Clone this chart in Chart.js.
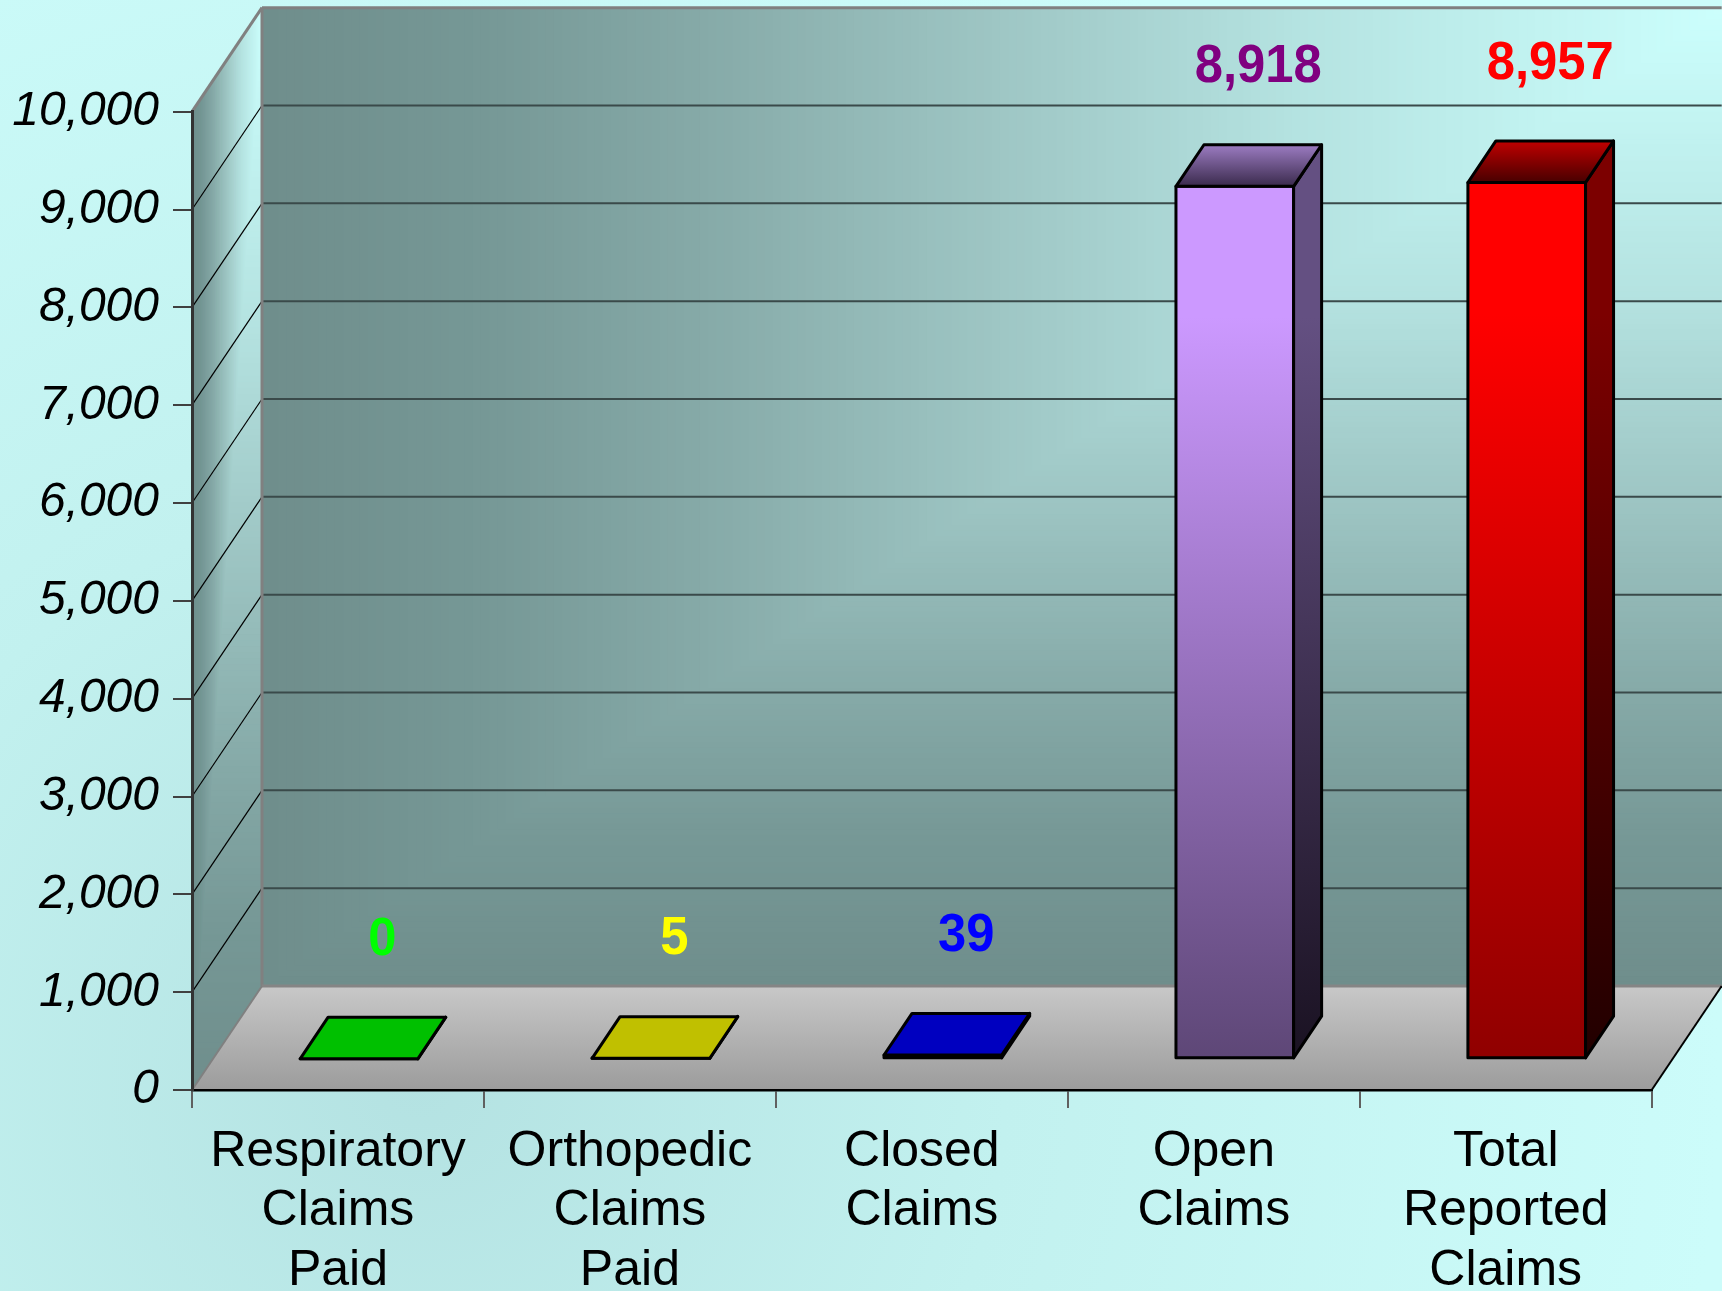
<!DOCTYPE html>
<html>
<head>
<meta charset="utf-8">
<script src="https://cdn.jsdelivr.net/npm/chart.js@4.4.1/dist/chart.umd.min.js"></script>
<style>
html,body{margin:0;padding:0;background:#c6f6f4;overflow:hidden}
canvas{display:block}
</style>
</head>
<body>
<canvas id="chart" width="1722" height="1291"></canvas>
<script>
// --- DATA --- //
const categories = [
  ["Respiratory","Claims","Paid"],
  ["Orthopedic","Claims","Paid"],
  ["Closed","Claims"],
  ["Open","Claims"],
  ["Total","Reported","Claims"]
];
const claimCounts = [0, 5, 39, 8918, 8957];
const yMin = 0;
const yMax = 10000;
const yStep = 1000;

// --- STYLE --- //
const FONT = "'Liberation Sans', Arial, Helvetica, sans-serif";
const DEPTH_X = 70, DEPTH_Y = -104;      // back wall offset from the front plane
const BAR_FRONT = 0.3, BAR_BACK = 0.7;   // where the bars sit in the floor depth
const WALL_STOPS = [
  [0,[204,255,253]],[0.3,[180,226,224]],[0.5,[158,198,196]],
  [0.7,[134,170,168]],[0.85,[118,152,150]],[1,[111,142,140]]
];
const barStyles = [
  {front:["#00c000","#00c000"], side:["#006000","#006000"], top:["#00c000","#00c000"], label:"#00ff00"},
  {front:["#c0c000","#c0c000"], side:["#606000","#606000"], top:["#c0c000","#c0c000"], label:"#ffff00"},
  {front:["#0000c0","#0000c0"], side:["#000060","#000060"], top:["#0000c0","#0000c0"], label:"#0000ff"},
  {front:["#cc99ff","#5e4777"], side:["#645082","#1a1222"], top:["#9c7cc2","#3a2a4c"], label:"#800080"},
  {front:["#ff0000","#900000"], side:["#7c0000","#220000"], top:["#c00000","#480000"], label:"#ff0000"}
];

function lerpColor(stops, t){
  for(let i=1;i<stops.length;i++){
    if(t<=stops[i][0]){
      const [t0,c0]=stops[i-1], [t1,c1]=stops[i];
      const k=(t-t0)/((t1-t0)||1);
      return "rgb("+c0.map((v,j)=>Math.round(v+(c1[j]-v)*k)).join(",")+")";
    }
  }
  return "rgb("+stops[stops.length-1][1].join(",")+")";
}

// excel style "from corner" fill, light corner at top right
function cornerFill(ctx,x0,y0,x1,y1,stops){
  const w=x1-x0, h=y1-y0, n=180;
  for(let i=n;i>0;i--){
    const t=i/n;
    ctx.fillStyle=lerpColor(stops,t);
    ctx.fillRect(x1-w*t, y0, w*t+1, h*t+1);
  }
}

function line(ctx,x0,y0,x1,y1,color,width){
  ctx.beginPath(); ctx.moveTo(x0,y0); ctx.lineTo(x1,y1);
  ctx.strokeStyle=color; ctx.lineWidth=width; ctx.stroke();
}

function vGrad(ctx,ya,yb,cols){
  const g=ctx.createLinearGradient(0,ya,0,yb);
  if(cols[0]!==cols[1]){
    g.addColorStop(0,cols[0]); g.addColorStop(0.15,cols[0]); g.addColorStop(1,cols[1]);
  } else { g.addColorStop(0,cols[0]); g.addColorStop(1,cols[1]); }
  return g;
}

function poly(ctx,pts,fill){
  ctx.beginPath();
  pts.forEach((p,i)=> i? ctx.lineTo(p[0],p[1]) : ctx.moveTo(p[0],p[1]));
  ctx.closePath();
  ctx.fillStyle=fill; ctx.fill(); ctx.stroke();
}

const backdrop3d = {
  id:"backdrop3d",
  beforeDraw(chart){
    const {ctx, chartArea:a, scales:{y}} = chart;
    const L=a.left, R=a.right, B=y.getPixelForValue(yMin), T=y.getPixelForValue(yMax);
    ctx.save();
    // page background
    const bg=ctx.createRadialGradient(420,1080,0,420,1080,1300);
    bg.addColorStop(0,"#b4e2e2"); bg.addColorStop(0.45,"#c2f1ef"); bg.addColorStop(1,"#ccfcfa");
    ctx.fillStyle=bg; ctx.fillRect(0,0,chart.width,chart.height);

    // back wall
    cornerFill(ctx, L+DEPTH_X, T+DEPTH_Y, R+DEPTH_X, B+DEPTH_Y, WALL_STOPS);

    // left wall
    ctx.save();
    ctx.beginPath();
    ctx.moveTo(L,B); ctx.lineTo(L,T); ctx.lineTo(L+DEPTH_X,T+DEPTH_Y); ctx.lineTo(L+DEPTH_X,B+DEPTH_Y);
    ctx.closePath(); ctx.clip();
    cornerFill(ctx, L, T+DEPTH_Y, L+DEPTH_X, B, WALL_STOPS);
    ctx.restore();

    // floor
    const fg=ctx.createLinearGradient(0,B+DEPTH_Y,0,B);
    fg.addColorStop(0,"#c8c8c8"); fg.addColorStop(1,"#9c9c9c");
    ctx.beginPath();
    ctx.moveTo(L,B); ctx.lineTo(R,B); ctx.lineTo(R+DEPTH_X,B+DEPTH_Y); ctx.lineTo(L+DEPTH_X,B+DEPTH_Y);
    ctx.closePath(); ctx.fillStyle=fg; ctx.fill();

    // wall gridlines
    y.ticks.forEach(t=>{
      if(t.value<=yMin || t.value>=yMax) return;
      const py=y.getPixelForValue(t.value);
      line(ctx, L+DEPTH_X, py+DEPTH_Y, R+DEPTH_X, py+DEPTH_Y, "#3a4a4a", 2);
      line(ctx, L, py, L+DEPTH_X, py+DEPTH_Y, "#000", 1.2);
    });

    // wall edges
    line(ctx, L+DEPTH_X, T+DEPTH_Y, L+DEPTH_X, B+DEPTH_Y, "#808080", 3);
    line(ctx, L+DEPTH_X, T+DEPTH_Y, R+DEPTH_X, T+DEPTH_Y, "#808080", 3);
    line(ctx, L, T, L+DEPTH_X, T+DEPTH_Y, "#808080", 3);
    line(ctx, L+DEPTH_X, B+DEPTH_Y, R+DEPTH_X, B+DEPTH_Y, "#858585", 3);
    line(ctx, L, B, L+DEPTH_X, B+DEPTH_Y, "#808080", 2);
    line(ctx, R, B, R+DEPTH_X, B+DEPTH_Y, "#000", 2);
    ctx.restore();
  }
};

const bars3d = {
  id:"bars3d",
  afterDatasetsDraw(chart){
    const {ctx} = chart;
    const meta = chart.getDatasetMeta(0);
    const values = chart.data.datasets[0].data;
    const fdx=DEPTH_X*BAR_FRONT, fdy=DEPTH_Y*BAR_FRONT;
    const ddx=DEPTH_X*(BAR_BACK-BAR_FRONT), ddy=DEPTH_Y*(BAR_BACK-BAR_FRONT);
    ctx.save();
    ctx.lineWidth=3; ctx.lineJoin="round"; ctx.strokeStyle="#000";
    meta.data.forEach((el,i)=>{
      const st=barStyles[i];
      const x0=el.x-el.width/2+fdx, x1=el.x+el.width/2+fdx;
      const yt=el.y+fdy, yb=el.base+fdy;
      // front face
      poly(ctx, [[x0,yt],[x1,yt],[x1,yb],[x0,yb]], vGrad(ctx,yt,yb,st.front));
      // side face
      poly(ctx, [[x1,yt],[x1+ddx,yt+ddy],[x1+ddx,yb+ddy],[x1,yb]], vGrad(ctx,yt,yb,st.side));
      // top face
      const tg=ctx.createLinearGradient(0,yt+ddy,0,yt);
      tg.addColorStop(0,st.top[0]); tg.addColorStop(1,st.top[1]);
      poly(ctx, [[x0,yt],[x0+ddx,yt+ddy],[x1+ddx,yt+ddy],[x1,yt]], tg);
      // value label, a bit taller than wide like the original
      ctx.save();
      ctx.translate((x0+x1)/2+ddx/2+9.5, yt-104);
      ctx.scale(0.94,1);
      ctx.font="bold 54px "+FONT;
      ctx.fillStyle=st.label; ctx.textAlign="center"; ctx.textBaseline="alphabetic";
      ctx.fillText(values[i].toLocaleString("en-US"), 0, 0);
      ctx.restore();
    });
    ctx.restore();
  }
};

new Chart(document.getElementById("chart"), {
  type:"bar",
  data:{
    labels:categories,
    datasets:[{data:claimCounts, backgroundColor:"rgba(0,0,0,0)", borderWidth:0, barPercentage:0.403, categoryPercentage:1}]
  },
  options:{
    responsive:false, devicePixelRatio:1, animation:false,
    layout:{padding:{top:111.7, right:70.3, left:0, bottom:0}},
    plugins:{legend:{display:false}, tooltip:{enabled:false}},
    scales:{
      x:{
        offset:true,
        grid:{display:true, offset:true, drawOnChartArea:false, drawTicks:true, tickLength:18, color:"#606060", lineWidth:2},
        border:{display:true, color:"#000", width:2.5},
        ticks:{color:"#000", font:{family:FONT, size:50, lineHeight:1.19}, padding:14, maxRotation:0, autoSkip:false},
        afterFit(s){ s.height=201; }
      },
      y:{
        min:yMin, max:yMax,
        grid:{drawOnChartArea:false, drawTicks:true, tickLength:19, color:"#404040", lineWidth:2},
        border:{display:true, color:"#333", width:3},
        ticks:{stepSize:yStep, color:"#000", font:{family:FONT, size:48, style:"italic"}, padding:14},
        afterFit(s){ s.width=192; }
      }
    }
  },
  plugins:[backdrop3d, bars3d]
});
</script>
</body>
</html>
